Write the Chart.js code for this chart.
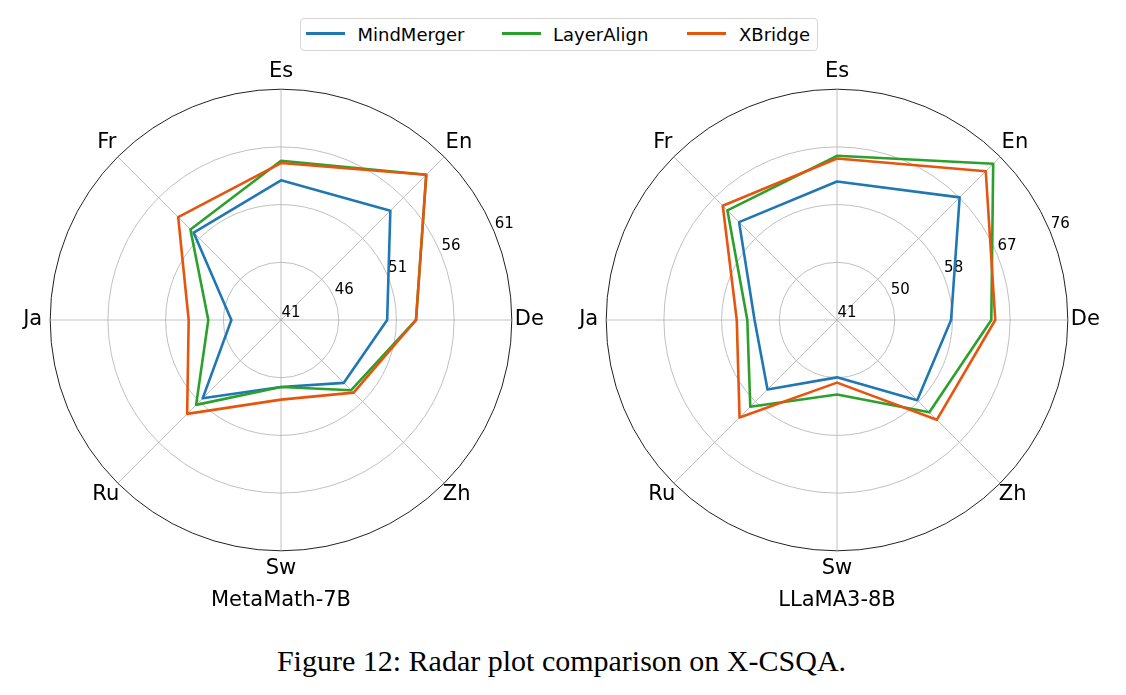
<!DOCTYPE html>
<html>
<head>
<meta charset="utf-8">
<script src="https://cdn.jsdelivr.net/npm/chart.js@4.4.1/dist/chart.umd.min.js"></script>
<style>
html,body{margin:0;padding:0;width:1126px;height:695px;overflow:hidden;background:#fff;}
canvas{position:absolute;top:0;}
#legendBox{position:absolute;left:300px;top:18px;width:518px;height:33px;border:1px solid rgba(204,204,204,0.8);border-radius:4px;box-sizing:border-box;}
.sw{position:absolute;height:3px;top:32px;width:39px;}
.lt{position:absolute;font-family:'DejaVu Sans';font-size:18px;line-height:18px;top:25.5px;white-space:nowrap;color:#000;}
#caption{position:absolute;left:0;width:1123px;top:645.5px;text-align:center;font-family:'Liberation Serif';font-size:30px;line-height:30px;color:#000;white-space:nowrap;}
</style>
</head>
<body>
<div id="legendBox"></div>
<div class="sw" style="left:306px;background:#1f77b4"></div>
<div class="lt" style="left:357.5px">MindMerger</div>
<div class="sw" style="left:502px;background:#2ca02c"></div>
<div class="lt" style="left:553px">LayerAlign</div>
<div class="sw" style="left:687px;background:#e6550d"></div>
<div class="lt" style="left:739px">XBridge</div>
<canvas id="c1" width="600" height="613" style="left:-19px;width:600px;height:613px"></canvas>
<canvas id="c2" width="600" height="613" style="left:537px;width:600px;height:613px"></canvas>
<div id="caption">Figure 12: Radar plot comparison on X-CSQA.</div>
<script>
// ---- data ----
const categories = ['Es', 'En', 'De', 'Zh', 'Sw', 'Ru', 'Ja', 'Fr'];
const seriesNames = ['MindMerger', 'LayerAlign', 'XBridge'];

// MetaMath-7B
const metaMindMerger = [53.1, 54.4, 50.2, 48.7, 46.8, 50.6, 45.3, 51.7];
const metaLayerAlign = [54.8, 58.8, 52.7, 49.6, 46.8, 51.4, 47.3, 52.1];
const metaXBridge    = [54.6, 58.8, 52.7, 49.9, 47.9, 52.5, 49.0, 53.6];
const metaTickValues = [41, 46, 51, 56, 61];
const metaTickLabels = ['41', '46', '51', '56', '61'];

// LLaMA3-8B
const llamaMindMerger = [62.0, 67.3, 58.3, 58.2, 49.7, 55.9, 53.5, 62.0];
const llamaLayerAlign = [65.9, 74.5, 64.4, 60.8, 52.3, 59.6, 54.6, 64.5];
const llamaXBridge    = [65.5, 72.9, 65.0, 62.4, 50.5, 61.9, 56.2, 65.5];
const llamaTickValues = [41, 49.75, 58.5, 67.25, 76];
const llamaTickLabels = ['41', '50', '58', '67', '76'];

const subplotTitles = ['MetaMath-7B', 'LLaMA3-8B'];

// ---- styles ----
const colors = ['#1f77b4', '#2ca02c', '#e6550d'];
const labelPadding = [5, 2, 3, -2, 5, -2, 8, 2];

Chart.defaults.font.family = 'DejaVu Sans';
Chart.defaults.color = '#000';

const rTickPlugin = {
  id: 'rTickLabels',
  beforeDatasetsDraw(chart, args, opts) {
    const s = chart.scales.r;
    const ctx = chart.ctx;
    ctx.save();
    ctx.font = '15px "DejaVu Sans"';
    ctx.fillStyle = '#000';
    ctx.textAlign = 'left';
    ctx.textBaseline = 'alphabetic';
    opts.values.forEach((v, i) => {
      const d = s.getDistanceFromCenterForValue(v);
      const p = s.getPointPosition(2, d, -Math.PI / 8);
      ctx.fillText(opts.labels[i], p.x + 0.5, p.y - 3.5);
    });
    ctx.restore();
  }
};

function makeChart(id, title, data, tickValues, tickLabels) {
  const last = tickValues.length - 1;
  return new Chart(document.getElementById(id), {
    type: 'radar',
    data: {
      labels: categories,
      datasets: seriesNames.map((n, i) => ({
        label: n,
        data: data[i],
        borderColor: colors[i],
        backgroundColor: colors[i],
        borderWidth: 2.6,
        borderJoinStyle: 'round',
        fill: false,
        pointRadius: 0,
        tension: 0,
        order: 3 - i
      }))
    },
    options: {
      responsive: false,
      animation: false,
      layout: { padding: { top: 59, bottom: 0, left: 0, right: 0 } },
      plugins: {
        legend: { display: false },
        tooltip: { enabled: false },
        title: {
          display: true, position: 'bottom', text: title,
          font: { family: 'DejaVu Sans', size: 21, weight: 'normal' },
          color: '#000', padding: { top: 6, bottom: 0 }
        },
        rTickLabels: { values: tickValues, labels: tickLabels }
      },
      scales: {
        r: {
          min: tickValues[0],
          max: tickValues[last],
          afterBuildTicks: (s) => { s.ticks = tickValues.map(v => ({ value: v })); },
          ticks: { display: false },
          grid: {
            circular: true,
            color: (c) => c.index === last ? '#222' : '#b0b0b0',
            lineWidth: (c) => c.index === last ? 1 : 0.8
          },
          angleLines: { color: '#b0b0b0', lineWidth: 0.8 },
          pointLabels: {
            font: { family: 'DejaVu Sans', size: 21 },
            color: '#000',
            padding: (c) => labelPadding[c.index]
          }
        }
      }
    },
    plugins: [rTickPlugin]
  });
}

makeChart('c1', subplotTitles[0], [metaMindMerger, metaLayerAlign, metaXBridge], metaTickValues, metaTickLabels);
makeChart('c2', subplotTitles[1], [llamaMindMerger, llamaLayerAlign, llamaXBridge], llamaTickValues, llamaTickLabels);
</script>
</body>
</html>
